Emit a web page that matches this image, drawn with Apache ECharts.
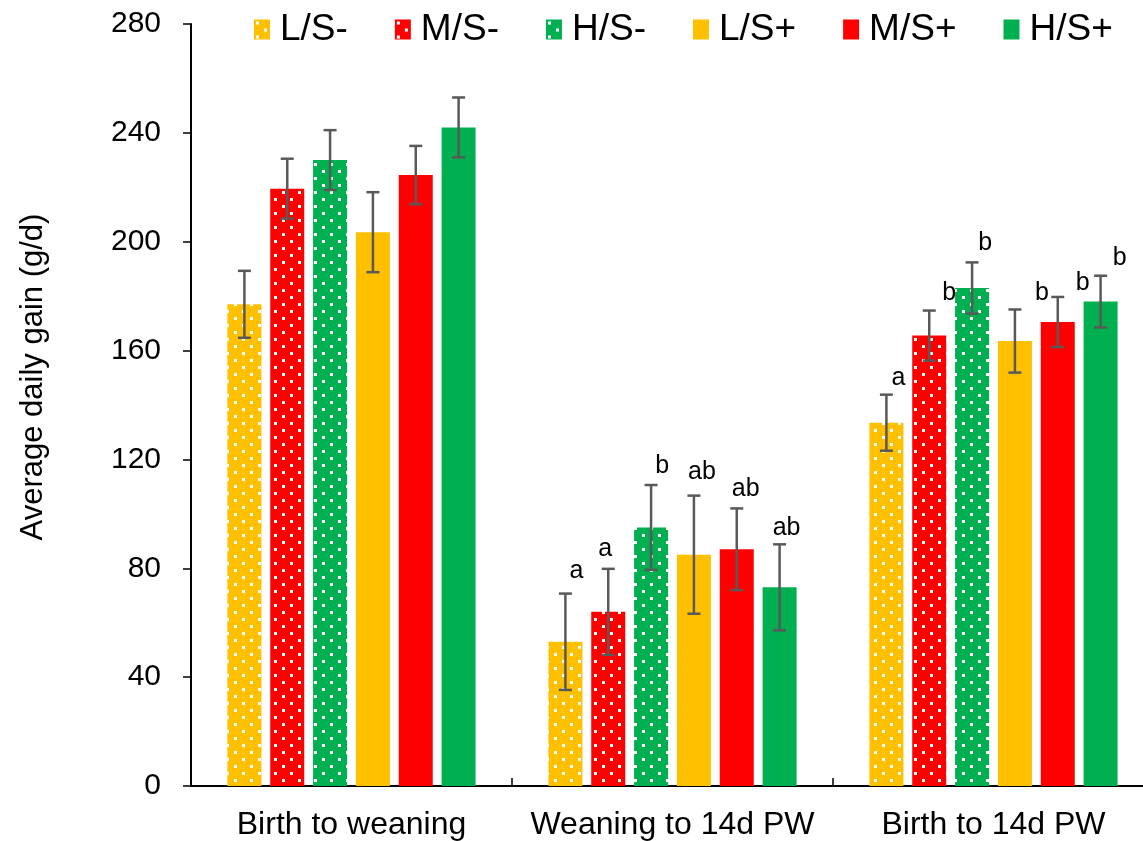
<!DOCTYPE html>
<html>
<head>
<meta charset="utf-8">
<script src="https://cdn.jsdelivr.net/npm/echarts@6/dist/echarts.min.js"></script>
<style>
html,body{margin:0;padding:0;background:#fff;}
#chart{width:1143px;height:841px;}
</style>
</head>
<body>
<div id="chart"></div>
<script>
// ---------- data ----------
const categories = ['Birth to weaning', 'Weaning to 14d PW', 'Birth to 14d PW'];
const seriesNames = ['L/S-', 'M/S-', 'H/S-', 'L/S+', 'M/S+', 'H/S+'];
const yTicks = [0, 40, 80, 120, 160, 200, 240, 280];

const meanLSminus = [177, 53, 133.5];
const meanMSminus = [219.5, 64, 165.5];
const meanHSminus = [230, 95, 183];
const meanLSplus  = [203.5, 85, 163.5];
const meanMSplus  = [224.5, 87, 170.5];
const meanHSplus  = [242, 73, 178];

const seLSminus = [12.3, 17.7, 10.3];
const seMSminus = [11, 15.8, 9.2];
const seHSminus = [11, 15.6, 9.4];
const seLSplus  = [14.7, 21.7, 11.6];
const seMSplus  = [10.7, 15, 9.2];
const seHSplus  = [11, 15.8, 9.5];

const letLSminus = ['', 'a', 'a'];
const letMSminus = ['', 'a', 'b'];
const letHSminus = ['', 'b', 'b'];
const letLSplus  = ['', 'ab', 'b'];
const letMSplus  = ['', 'ab', 'b'];
const letHSplus  = ['', 'ab', 'b'];

const means = [meanLSminus, meanMSminus, meanHSminus, meanLSplus, meanMSplus, meanHSplus];
const ses = [seLSminus, seMSminus, seHSminus, seLSplus, seMSplus, seHSplus];
const letters = [letLSminus, letMSminus, letHSminus, letLSplus, letMSplus, letHSplus];

// ---------- style ----------
const FONT = '"Liberation Sans", Arial, sans-serif';
const baseColors = ['#FFC000', '#FF0000', '#00B050', '#FFC000', '#FF0000', '#00B050'];
const dotted = [true, true, true, false, false, false];
const errColor = '#595959';
const barWidth = 34;
const barGapRatio = 0.26;
const step = barWidth * (1 + barGapRatio);
// label offsets (px) relative to bar centre x and error-bar top y: [series][category]
const labelOffsets = [
  [[0,0], [11,-22], [12,-17]],
  [[0,0], [-3,-20], [20,-17]],
  [[0,0], [11,-19], [13,-19]],
  [[0,0], [8,-24], [27,-16]],
  [[0,0], [9,-19], [25,-14]],
  [[0,0], [7,-16], [19,-18]]
];

function makePattern(color) {
  const c = document.createElement('canvas');
  c.width = 16; c.height = 14;
  const ctx = c.getContext('2d');
  ctx.fillStyle = color;
  ctx.fillRect(0, 0, 16, 14);
  ctx.fillStyle = '#ffffff';
  ctx.fillRect(2, 2, 3, 3);
  ctx.fillRect(10, 9, 3, 3);
  return c;
}

function fillFor(i) {
  if (dotted[i]) {
    return { image: makePattern(baseColors[i]), repeat: 'repeat' };
  }
  return baseColors[i];
}

const barSeries = seriesNames.map((name, i) => ({
  name: name,
  type: 'bar',
  data: means[i],
  barWidth: barWidth,
  barGap: (barGapRatio * 100) + '%',
  itemStyle: { color: fillFor(i) },
  emphasis: { disabled: true },
  z: 2
}));

const errData = [];
seriesNames.forEach((n, s) => {
  categories.forEach((c, k) => {
    errData.push([k, s, means[s][k], ses[s][k]]);
  });
});

const errSeries = {
  name: 'err',
  type: 'custom',
  z: 10,
  silent: true,
  clip: false,
  encode: { x: 0, y: 2 },
  data: errData,
  renderItem: function (params, api) {
    const k = api.value(0);
    const s = api.value(1);
    const m = api.value(2);
    const e = api.value(3);
    const c = api.coord([k, m]);
    const x = c[0] + (s - 2.5) * step;
    const yTop = api.coord([k, m + e])[1];
    const yBot = api.coord([k, m - e])[1];
    const st = { stroke: errColor, lineWidth: 2.5 };
    const half = 6.5;
    const children = [
      { type: 'line', shape: { x1: x, y1: yTop, x2: x, y2: yBot }, style: st },
      { type: 'line', shape: { x1: x - half, y1: yTop, x2: x + half, y2: yTop }, style: st },
      { type: 'line', shape: { x1: x - half, y1: yBot, x2: x + half, y2: yBot }, style: st }
    ];
    const lt = letters[s][k];
    if (lt) {
      const off = labelOffsets[s][k];
      children.push({
        type: 'text',
        x: x + off[0],
        y: yTop + off[1],
        style: {
          text: lt,
          font: '25px ' + FONT,
          fill: '#000',
          textAlign: 'center',
          textVerticalAlign: 'middle'
        }
      });
    }
    return { type: 'group', children: children };
  }
};

const chart = echarts.init(document.getElementById('chart'), null, { renderer: 'canvas' });
chart.setOption({
  animation: false,
  backgroundColor: '#ffffff',
  textStyle: { fontFamily: FONT },
  grid: { left: 191, top: 24, width: 963, bottom: 55, containLabel: false, outerBoundsMode: 'none' },
  legend: {
    data: seriesNames,
    left: 254,
    top: 11,
    padding: 0,
    icon: 'rect',
    itemWidth: 16,
    itemHeight: 20,
    itemGap: 47,
    selectedMode: false,
    textStyle: { fontSize: 37, color: '#000', fontFamily: FONT, padding: [0, 0, 0, 5] }
  },
  xAxis: {
    type: 'category',
    data: categories,
    boundaryGap: true,
    axisLine: { lineStyle: { color: '#000', width: 2 } },
    axisTick: { show: true, inside: true, length: 8, lineStyle: { color: '#000', width: 1.5 } },
    axisLabel: { fontSize: 32, color: '#000', margin: 23, fontFamily: FONT, interval: 0 },
    splitLine: { show: false }
  },
  yAxis: {
    type: 'value',
    min: yTicks[0],
    max: yTicks[yTicks.length - 1],
    interval: yTicks[1] - yTicks[0],
    axisLine: { show: true, lineStyle: { color: '#000', width: 2 } },
    axisTick: { show: true, inside: false, length: 8, lineStyle: { color: '#000', width: 1.5 } },
    axisLabel: { fontSize: 30, color: '#000', margin: 30, fontFamily: FONT },
    splitLine: { show: false }
  },
  graphic: [{
    type: 'text',
    x: 33,
    y: 377,
    rotation: Math.PI / 2,
    style: {
      text: 'Average daily gain (g/d)',
      font: '31px ' + FONT,
      fill: '#000',
      textAlign: 'center',
      textVerticalAlign: 'middle'
    }
  }],
  series: barSeries.concat([errSeries])
});
</script>
</body>
</html>
